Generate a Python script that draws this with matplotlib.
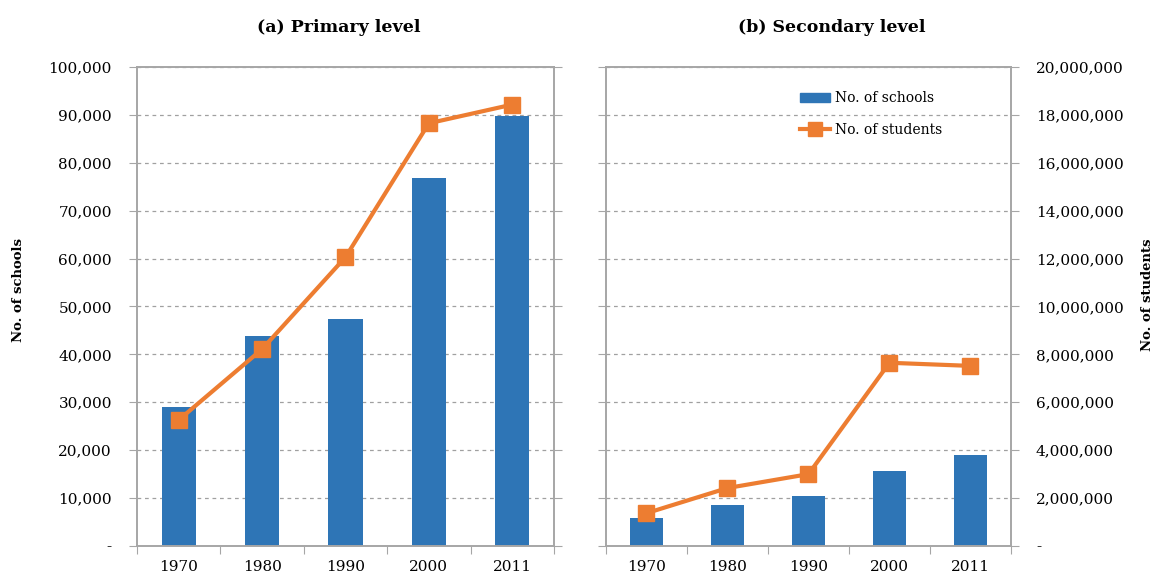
import matplotlib.pyplot as plt
import matplotlib.ticker as mticker
from matplotlib.lines import Line2D
from matplotlib.patches import Patch
import numpy as np

years = ['1970', '1980', '1990', '2000', '2011']
primary_schools = [29000, 43800, 47300, 76800, 89800]
primary_students = [5260000, 8220000, 12060000, 17650000, 18430000]
secondary_schools = [5850, 8650, 10500, 15700, 18900]
secondary_students = [1370000, 2420000, 3000000, 7650000, 7520000]

BLUE = '#2E75B6'
ORANGE = '#ED7D31'
GRID = '#a0a0a0'
SPINE = '#a6a6a6'

plt.rcParams['font.family'] = 'DejaVu Serif'

def fmt(v, pos):
    return '-' if v == 0 else f'{v:,.0f}'

fig = plt.figure(figsize=(11.58, 5.74), dpi=100)
ax1 = fig.add_axes([0.1183, 0.0488, 0.3601, 0.8345])
ax2 = fig.add_axes([0.5233, 0.0488, 0.3497, 0.8345])

x = np.arange(len(years))
panels = [(ax1, primary_schools, primary_students, '(a) Primary level', 0.484),
          (ax2, secondary_schools, secondary_students, '(b) Secondary level', 0.558)]

for ax, schools, students, title, tx in panels:
    ax.bar(x, schools, width=0.41, color=BLUE, zorder=2)
    ax.set_ylim(0, 100000)
    ax.set_xlim(-0.5, 4.5)
    ax.yaxis.set_major_locator(mticker.MultipleLocator(10000))
    ax.yaxis.set_major_formatter(mticker.FuncFormatter(fmt))
    ax.grid(axis='y', color=GRID, linestyle=(0, (3, 3)), linewidth=0.9)
    ax.set_axisbelow(True)
    ax.set_xticks(np.arange(-0.5, 5, 1))
    ax.set_xticklabels([])
    ax.set_xticks(x, minor=True)
    ax.set_xticklabels(years, minor=True, fontsize=11)
    ax.tick_params(axis='x', which='minor', length=0, pad=10)
    ax.tick_params(axis='x', which='major', length=6, color=SPINE, direction='out')
    ax.tick_params(axis='y', length=6, color=SPINE, labelsize=11, pad=12)
    for s in ax.spines.values():
        s.set_color(SPINE)
        s.set_linewidth(1.2)
    ax.set_title(title, fontsize=12.5, fontweight='bold', pad=25, x=tx)

    axb = ax.twinx()
    axb.plot(x, students, color=ORANGE, linewidth=3, marker='s', markersize=11,
             zorder=3)
    axb.set_ylim(0, 20000000)
    axb.yaxis.set_major_locator(mticker.MultipleLocator(2000000))
    axb.yaxis.set_major_formatter(mticker.FuncFormatter(fmt))
    axb.tick_params(axis='y', length=6, color=SPINE, labelsize=11, pad=12)
    for s in axb.spines.values():
        s.set_color(SPINE)
        s.set_linewidth(1.2)
    if ax is ax1:
        axb.set_yticklabels([])
        ax.set_ylabel('No. of schools', fontsize=9.5, fontweight='bold')
        ax.yaxis.set_label_coords(-0.268, 0.534)
    else:
        ax.set_yticklabels([])
        axb.set_ylabel('No. of students', fontsize=9.5, fontweight='bold')
        axb.yaxis.set_label_coords(1.32, 0.524)
        handles = [Patch(color=BLUE),
                   Line2D([], [], color=ORANGE, linewidth=3, marker='s', markersize=10)]
        axb.legend(handles, ['No. of schools', 'No. of students'], loc='upper left',
                   bbox_to_anchor=(0.448, 0.975), frameon=False, fontsize=10,
                   handlelength=2.2, handletextpad=0.3, labelspacing=1.25)

fig.savefig('out.png', dpi=100)
